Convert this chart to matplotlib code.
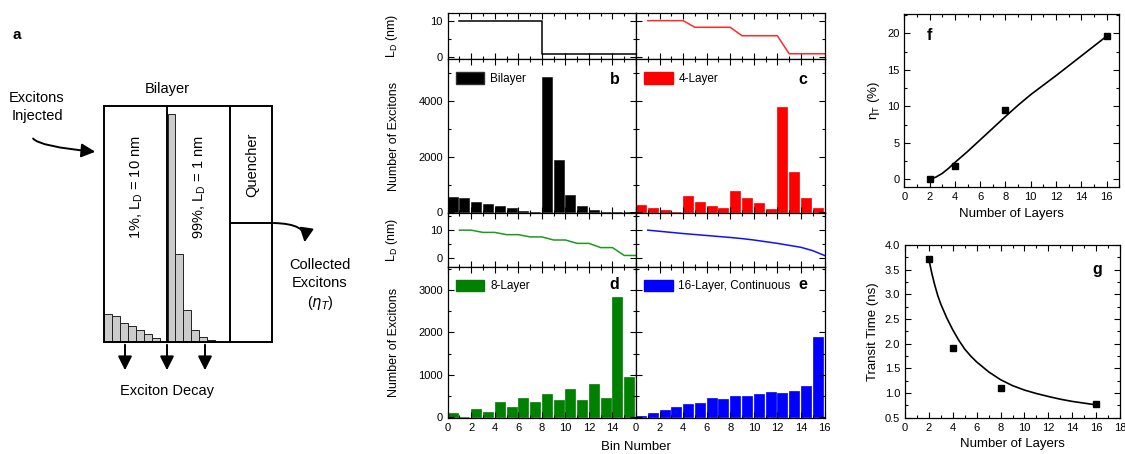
import numpy as np
import matplotlib
matplotlib.use('Agg')
import matplotlib.pyplot as plt
from matplotlib.patches import Patch, Rectangle, FancyArrowPatch
from matplotlib.ticker import MultipleLocator

plt.rcParams['font.family'] = ['Liberation Sans', 'DejaVu Sans']
plt.rcParams['mathtext.default'] = 'regular'

# ---------------- data ----------------
bins = np.arange(16)
bilayer_counts = [560, 510, 380, 300, 220, 150, 70, 10, 4850, 1880, 640, 240, 90, 30, 10, 5]
layer4_counts = [256, 160, 75, 0, 575, 390, 232, 146, 756, 537, 341, 134, 3800, 1460, 537, 170]
layer8_counts = [100, 10, 200, 120, 360, 248, 464, 368, 552, 400, 656, 400, 784, 448, 2840, 950]
layer16_counts = [20, 104, 176, 232, 304, 336, 448, 440, 496, 504, 544, 592, 576, 608, 728, 1888]

ld_bilayer_x = [1, 8, 8, 16]
ld_bilayer_y = [10, 10, 1, 1]
ld_pos = np.arange(1, 17)
ld_4layer = [10, 10, 10, 10, 8.2, 8.2, 8.2, 8.2, 5.9, 5.9, 5.9, 5.9, 1, 1, 1, 1]
ld_8layer = [10, 10, 9.2, 9.2, 8.4, 8.4, 7.6, 7.6, 6.5, 6.5, 5.3, 5.3, 3.8, 3.8, 1, 1]
ld_16layer = [10, 9.6, 9.2, 8.8, 8.45, 8.1, 7.75, 7.4, 7.0, 6.5, 5.9, 5.3, 4.6, 3.9, 2.7, 1.0]

layers = [2, 4, 8, 16]
eta_T = [0.05, 1.8, 9.5, 19.6]
transit_time = [3.71, 1.92, 1.11, 0.77]
eta_fit_x = [2, 2.5, 3, 3.5, 4, 4.5, 5, 5.5, 6, 6.5, 7, 7.5, 8, 9, 10, 11, 12, 13, 14, 15, 16]
eta_fit_y = [0.0, 0.3, 0.8, 1.5, 2.3, 3.05, 3.8, 4.6, 5.4, 6.2, 7.0, 7.8, 8.6, 10.15, 11.6,
             12.9, 14.2, 15.55, 16.9, 18.25, 19.6]
tt_fit_x = [2, 2.25, 2.5, 2.75, 3, 3.5, 4, 4.5, 5, 5.5, 6, 7, 8, 9, 10, 11, 12, 13, 14, 15, 16]
tt_fit_y = [3.71, 3.42, 3.18, 2.97, 2.8, 2.52, 2.28, 2.07, 1.89, 1.75, 1.63, 1.43, 1.27, 1.15,
            1.06, 0.99, 0.93, 0.875, 0.83, 0.795, 0.76]

# schematic decay histograms (panel a, arbitrary units)
decay_10nm = [27.7, 25.7, 19.3, 16, 11.7, 7.7, 4]
decay_1nm = [228, 88, 32, 12, 5, 2.3]

W, H = 1125, 454
fig = plt.figure(figsize=(W / 100, H / 100), dpi=100)


def px(x0, y0, x1, y1):
    return [x0 / W, 1 - y1 / H, (x1 - x0) / W, (y1 - y0) / H]


# ---------------- panel a (schematic) ----------------
axa = fig.add_axes([0, 0, 380 / W, 1])
axa.set_xlim(0, 380)
axa.set_ylim(454, 0)
axa.axis('off')
fs_a = 10.5
axa.add_patch(Rectangle((104, 106), 168, 236, fill=False, lw=1.4, zorder=3))
axa.plot([167, 167], [106, 342], color='k', lw=1.4, zorder=3)
axa.plot([230, 230], [106, 342], color='k', lw=1.4, zorder=3)
axa.plot([230, 272], [223, 223], color='k', lw=1.4, zorder=3)
axa.bar(104 + 8 * np.arange(len(decay_10nm)), [-h for h in decay_10nm], bottom=342,
        width=8, align='edge', color='#cccccc', edgecolor='#222222', lw=0.7)
axa.bar(167.5 + 7.9 * np.arange(len(decay_1nm)), [-h for h in decay_1nm], bottom=342,
        width=7.9, align='edge', color='#cccccc', edgecolor='#222222', lw=0.7)
axa.text(17, 35, 'a', fontweight='bold', fontsize=11, ha='center', va='center')
axa.text(167, 89, 'Bilayer', fontsize=fs_a, ha='center', va='center')
axa.text(37, 107, 'Excitons\nInjected', fontsize=fs_a, ha='center', va='center', linespacing=1.3)
axa.text(137, 187, '1%, L$_D$ = 10 nm', fontsize=fs_a, rotation=90, ha='center', va='center')
axa.text(200, 187, '99%, L$_D$ = 1 nm', fontsize=fs_a, rotation=90, ha='center', va='center')
axa.text(252, 165, 'Quencher', fontsize=fs_a, rotation=90, ha='center', va='center')
axa.text(320, 285, 'Collected\nExcitons\n($\\it{\\eta_T}$)', fontsize=fs_a, ha='center',
         va='center', linespacing=1.3)
axa.text(167, 391, 'Exciton Decay', fontsize=fs_a, ha='center', va='center')
arrow_kw = dict(arrowstyle='-|>,head_length=0.7,head_width=0.35', mutation_scale=12,
                color='k', lw=1.4)
axa.add_patch(FancyArrowPatch((32, 136), (98, 152),
                              connectionstyle='angle3,angleA=90,angleB=-5', **arrow_kw))
axa.add_patch(FancyArrowPatch((271, 223), (304, 245),
                              connectionstyle='angle3,angleA=0,angleB=75', **arrow_kw))
for xa in [125, 167, 205]:
    axa.add_patch(FancyArrowPatch((xa, 342), (xa, 373), **arrow_kw))

# ---------------- panels b-e ----------------
fs_tick = 8
fs_lab = 9


def style(ax):
    ax.tick_params(which='both', direction='in', top=True, right=True, labelsize=fs_tick, width=0.8)
    ax.tick_params(which='major', length=4)
    ax.tick_params(which='minor', length=2)
    for s in ax.spines.values():
        s.set_linewidth(0.9)


cols = [(447.7, 636), (636, 824.5)]
rows = [(13.3, 59.3, 213.3), (213.3, 266.7, 418.3)]
panels = [
    (0, 0, bilayer_counts, ld_bilayer_x, ld_bilayer_y, 'black', 'black', 'Bilayer', 'b'),
    (0, 1, layer4_counts, ld_pos, ld_4layer, '#ff0000', '#ff2a2a', '4-Layer', 'c'),
    (1, 0, layer8_counts, ld_pos, ld_8layer, '#008000', '#1c9a1c', '8-Layer', 'd'),
    (1, 1, layer16_counts, ld_pos, ld_16layer, '#0000ff', '#1010ff', '16-Layer, Continuous', 'e'),
]
small_ylim = [(-0.5, 12), (-3, 16)]
big_ylim = [(-30, 5500), (-25, 3550)]
big_major = [2000, 1000]

for r, c, counts, lx, ly, col, lcol, name, letter in panels:
    c0, c1 = cols[c]
    r0, r1, r2 = rows[r]
    axs = fig.add_axes(px(c0, r0, c1, r1))
    axb = fig.add_axes(px(c0, r1, c1, r2))
    axs.plot(lx, ly, color=lcol, lw=1.1)
    axs.set_xlim(0, 16)
    axs.set_ylim(*small_ylim[r])
    axs.set_yticks([0, 10])
    axs.yaxis.set_minor_locator(MultipleLocator(5))
    axs.xaxis.set_major_locator(MultipleLocator(2))
    axs.xaxis.set_minor_locator(MultipleLocator(1))
    style(axs)
    axs.tick_params(labelbottom=False)

    axb.bar(bins, counts, width=0.85, align='edge', color=col, edgecolor='#202020' if col == 'black' else col,
            lw=0.5)
    axb.set_xlim(0, 16)
    axb.set_ylim(*big_ylim[r])
    axb.yaxis.set_major_locator(MultipleLocator(big_major[r]))
    axb.yaxis.set_minor_locator(MultipleLocator(big_major[r] / 2))
    axb.xaxis.set_major_locator(MultipleLocator(2))
    axb.xaxis.set_minor_locator(MultipleLocator(1))
    style(axb)
    axb.legend(handles=[Patch(facecolor=col, edgecolor='#303030' if col == 'black' else col)],
               labels=[name], loc='upper left', frameon=False, fontsize=8.5,
               handlelength=2.4, handleheight=1.1, handletextpad=0.5,
               borderaxespad=0.3, bbox_to_anchor=(0.0, 0.97))
    yl = 0.87 if r == 0 else 0.885
    axb.text(0.885, yl, letter, transform=axb.transAxes, fontweight='bold', fontsize=11.5,
             ha='center', va='center')

    if c == 0:
        axs.set_ylabel('L$_D$ (nm)', fontsize=fs_lab)
        axb.set_ylabel('Number of Excitons', fontsize=fs_lab)
        axs.yaxis.set_label_coords(-0.255, 0.5)
        axb.yaxis.set_label_coords(-0.255, 0.5)
    else:
        axs.tick_params(labelleft=False)
        axb.tick_params(labelleft=False)
    if r == 0:
        axb.tick_params(labelbottom=False)
    else:
        ticks = np.arange(0, 17, 2)
        axb.set_xticks(ticks)
        if c == 0:
            axb.set_xticklabels([str(t) if t < 16 else '' for t in ticks])

fig.text(636 / W, 1 - 447 / H, 'Bin Number', fontsize=fs_lab + 0.5, ha='center', va='center')

# ---------------- panel f ----------------
axf = fig.add_axes(px(904.3, 14.3, 1119.3, 187.3))
axf.plot(eta_fit_x, eta_fit_y, color='k', lw=1.2)
axf.plot(layers, eta_T, 's', color='k', ms=5)
axf.set_xlim(0, 17)
axf.set_ylim(-1.1, 22.6)
axf.xaxis.set_major_locator(MultipleLocator(2))
axf.xaxis.set_minor_locator(MultipleLocator(1))
axf.yaxis.set_major_locator(MultipleLocator(5))
axf.yaxis.set_minor_locator(MultipleLocator(2.5))
style(axf)
axf.set_xlabel('Number of Layers', fontsize=fs_lab + 0.5)
axf.set_ylabel('$\\eta_T$ (%)', fontsize=fs_lab + 0.5)
axf.text(0.115, 0.875, 'f', transform=axf.transAxes, fontweight='bold', fontsize=11.5,
         ha='center', va='center')

# ---------------- panel g ----------------
axg = fig.add_axes(px(905, 245, 1120, 417.7))
axg.plot(tt_fit_x, tt_fit_y, color='k', lw=1.2)
axg.plot(layers, transit_time, 's', color='k', ms=5)
axg.set_xlim(0, 18)
axg.set_ylim(0.5, 4.0)
axg.xaxis.set_major_locator(MultipleLocator(2))
axg.xaxis.set_minor_locator(MultipleLocator(1))
axg.yaxis.set_major_locator(MultipleLocator(0.5))
axg.yaxis.set_minor_locator(MultipleLocator(0.25))
axg.yaxis.set_major_formatter('{x:.1f}')
style(axg)
axg.set_xlabel('Number of Layers', fontsize=fs_lab + 0.5)
axg.set_ylabel('Transit Time (ns)', fontsize=fs_lab + 0.5)
axg.text(0.895, 0.86, 'g', transform=axg.transAxes, fontweight='bold', fontsize=11.5,
         ha='center', va='center')

fig.savefig('out.png', dpi=100)
